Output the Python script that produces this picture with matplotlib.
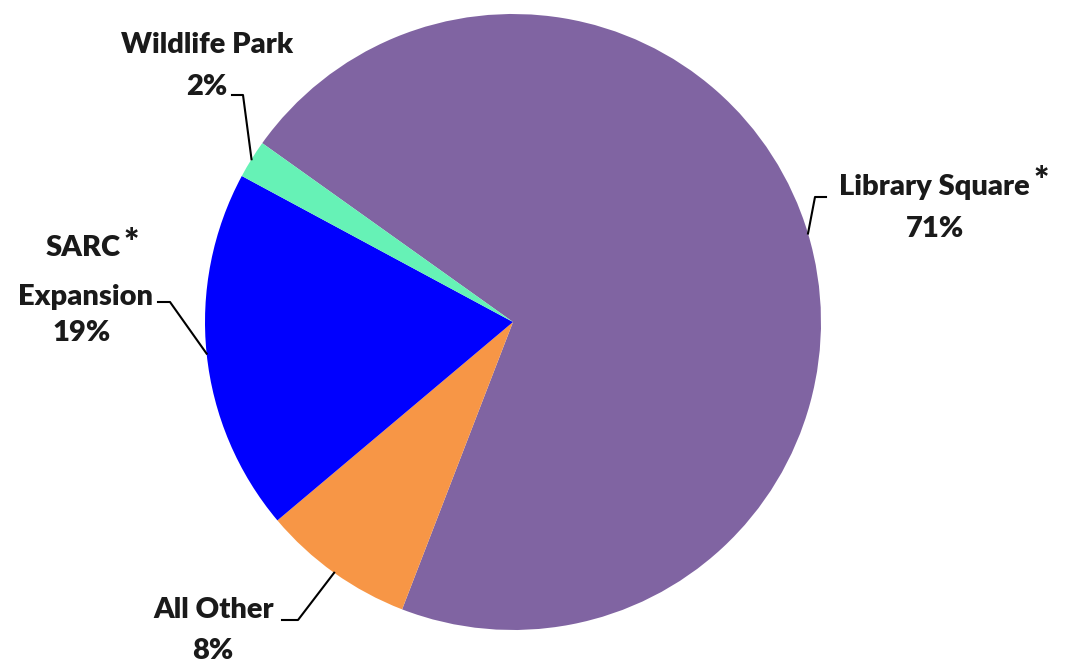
import numpy as np
import matplotlib.pyplot as plt

# slices in clockwise order starting at the top-left
categories = ["Library Square", "All Other", "SARC Expansion", "Wildlife Park"]
shares = [71, 8, 19, 2]
colors = ["#8064A2", "#F79646", "#0000FF", "#66F2B6"]

plt.rcParams['font.family'] = ['Lato', 'DejaVu Sans']

fig = plt.figure(figsize=(10.70, 6.67), dpi=100)
ax = fig.add_axes([0, 0, 1, 1])

cx, cy, r = 513, 345, 308
wedges, _ = ax.pie(shares, colors=colors, startangle=144.5, counterclock=False,
                   center=(cx, cy), radius=r, frame=True,
                   wedgeprops=dict(linewidth=0))
ax.set_xlim(0, 1070)
ax.set_ylim(0, 667)
ax.set_aspect('equal')
ax.axis('off')

def edge_point(w):
    a = np.deg2rad((w.theta1 + w.theta2) / 2)
    return cx + r * np.cos(a), cy + r * np.sin(a)

fs = 21
kw = dict(fontsize=fs, fontweight='heavy', color='#1a1a1a', ha='center', va='center')
star = dict(fontsize=26, fontweight='heavy', color='#1a1a1a', ha='center', va='center')

# Library Square
x0, y0 = edge_point(wedges[0])
ax.plot([x0, 815, 826], [y0, 470, 470], color='black', lw=1.5)
ax.text(934, 480, "Library Square", **kw)
ax.text(1041, 486, "*", **star)
ax.text(935, 438, f"{shares[0]}%", **kw)

# All Other
x0, y0 = edge_point(wedges[1])
ax.plot([x0, 298, 282], [y0, 47, 47], color='black', lw=1.5)
ax.text(214, 57, "All Other", **kw)
ax.text(213, 16, f"{shares[1]}%", **kw)

# SARC Expansion
x0, y0 = edge_point(wedges[2])
ax.plot([x0, 170, 158], [y0, 365, 365], color='black', lw=1.5)
ax.text(83, 419, "SARC", **kw)
ax.text(131, 424, "*", **star)
ax.text(85, 370, "Expansion", **kw)
ax.text(82, 334, f"{shares[2]}%", **kw)

# Wildlife Park
x0, y0 = edge_point(wedges[3])
ax.plot([x0, 243, 232], [y0, 572, 572], color='black', lw=1.5)
ax.text(207, 622, "Wildlife Park", **kw)
ax.text(207, 580, f"{shares[3]}%", **kw)

fig.savefig("out.png", dpi=100)
